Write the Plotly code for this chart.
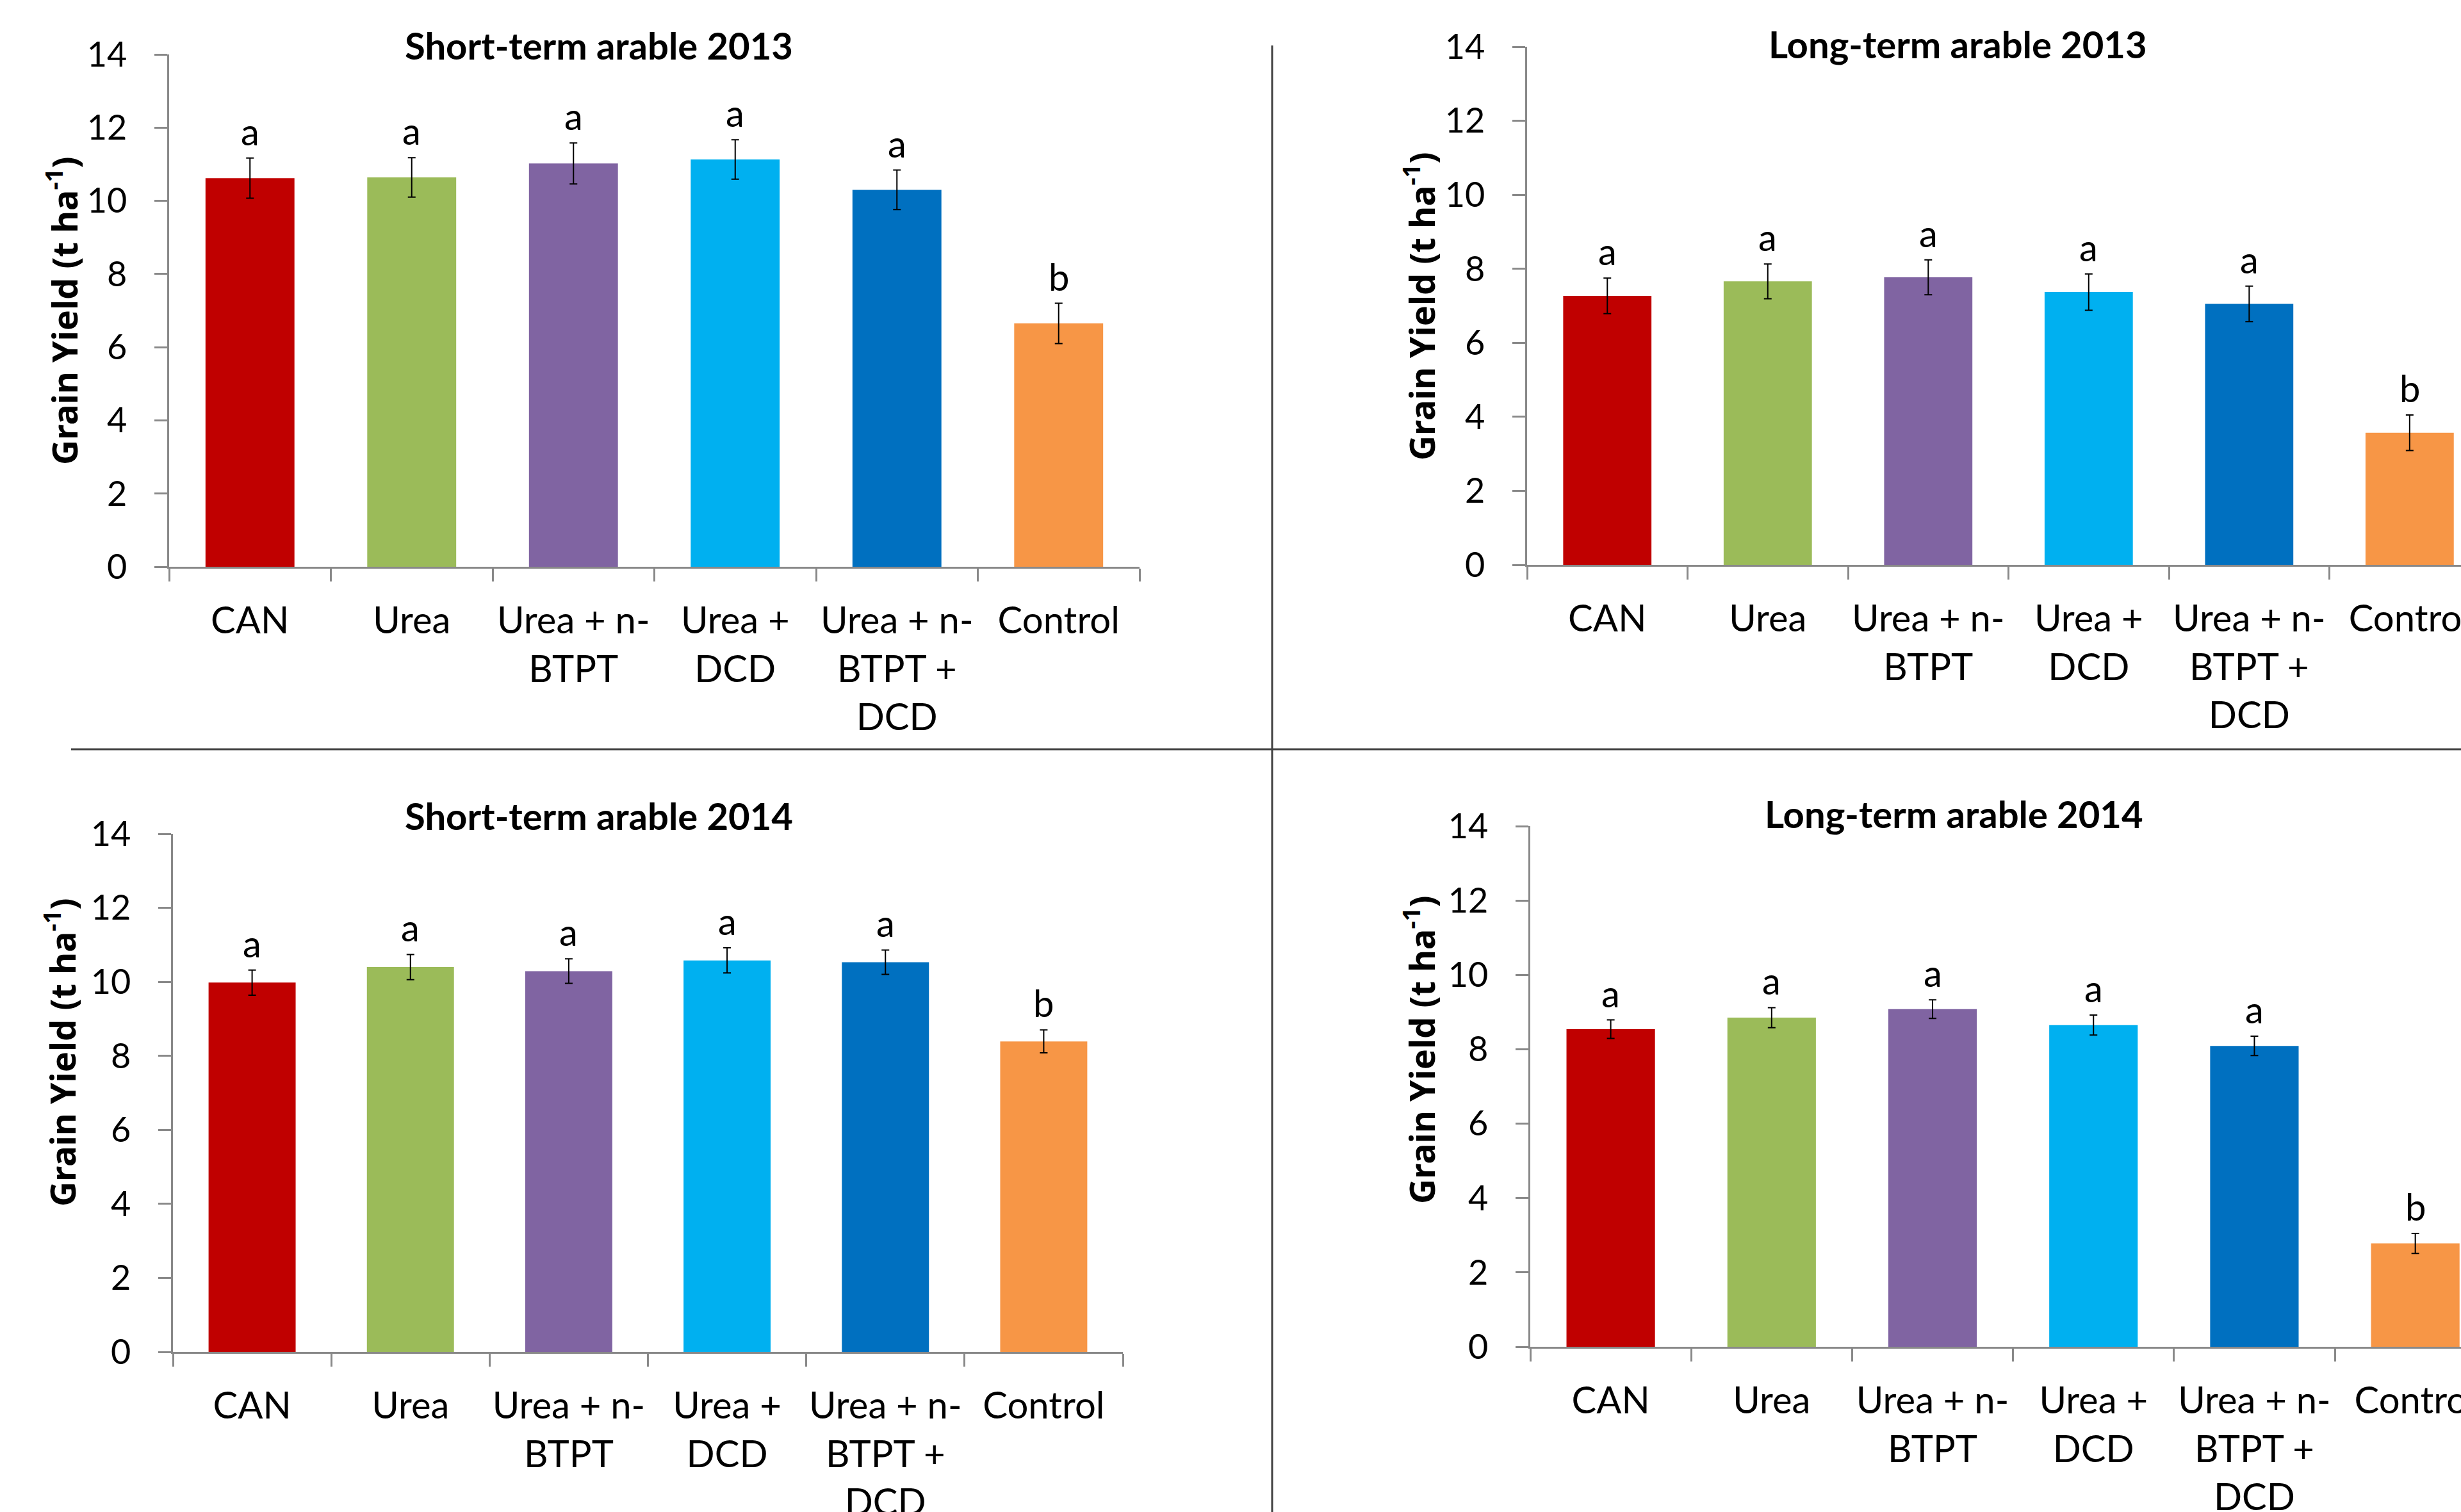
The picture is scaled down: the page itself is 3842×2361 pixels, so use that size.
import plotly.graph_objects as go

W, H = 3842, 2361

categories = ["CAN", "Urea", "Urea + n-<br>BTPT", "Urea +<br>DCD",
              "Urea + n-<br>BTPT +<br>DCD", "Control"]
colors = ["#C00000", "#9BBB59", "#8064A2", "#00B0F0", "#0070C0", "#F79646"]
letters = ["a", "a", "a", "a", "a", "b"]

st2013 = [10.62, 10.64, 11.02, 11.13, 10.30, 6.65]
st2013_err = [0.55, 0.54, 0.56, 0.54, 0.54, 0.55]
lt2013 = [7.27, 7.66, 7.77, 7.37, 7.05, 3.57]
lt2013_err = [0.48, 0.47, 0.47, 0.49, 0.48, 0.48]
st2014 = [9.98, 10.40, 10.29, 10.58, 10.53, 8.39]
st2014_err = [0.34, 0.34, 0.33, 0.34, 0.33, 0.31]
lt2014 = [8.54, 8.85, 9.08, 8.65, 8.09, 2.78]
lt2014_err = [0.25, 0.27, 0.25, 0.27, 0.26, 0.27]

titles = ["Short-term arable 2013", "Long-term arable 2013",
          "Short-term arable 2014", "Long-term arable 2014"]
y_title = "Grain Yield (t ha<sup>-1</sup>)"


def px_x(p):
    return p / W


def px_y(p):
    return 1 - p / H


panels = [
    dict(vals=st2013, err=st2013_err, x0=264, x1=1779, ytop=85, ybot=885,
         xr=None, tx=935, tb=107, yx=97, yy=485),
    dict(vals=lt2013, err=lt2013_err, x0=2384, x1=W, ytop=73, ybot=882,
         xr=[-0.5, 5.32], tx=3056, tb=105, yx=2217, yy=478),
    dict(vals=st2014, err=st2014_err, x0=270, x1=1753, ytop=1302, ybot=2111,
         xr=None, tx=935, tb=1310, yx=94, yy=1643),
    dict(vals=lt2014, err=lt2014_err, x0=2389, x1=W, ytop=1290, ybot=2103,
         xr=[-0.5, 5.284], tx=3050, tb=1307, yx=2216, yy=1639),
]

fig = go.Figure()
annotations = []
axis_color = "#898989"
ytick_font = dict(family="Lato, Carlito, sans-serif", size=54, color="black")
xtick_font = dict(family="Lato, Carlito, sans-serif", size=58, color="black")

for i, p in enumerate(panels):
    n = "" if i == 0 else str(i + 1)
    fig.add_trace(go.Bar(
        x=categories, y=p["vals"],
        marker=dict(color=colors, line=dict(width=0)),
        width=0.55,
        error_y=dict(type="data", array=p["err"], visible=True,
                     color="black", thickness=2, width=6),
        xaxis="x" + n, yaxis="y" + n, showlegend=False,
    ))
    xa = dict(domain=[px_x(p["x0"]), px_x(p["x1"])], anchor="y" + n,
              type="category", showline=True, linecolor=axis_color,
              linewidth=2.5, ticks="outside", tickson="boundaries",
              ticklen=20, tickcolor=axis_color, tickwidth=2.5,
              showgrid=False, zeroline=False, tickfont=xtick_font,
              tickangle=0,
              ticklabelstandoff=32, fixedrange=True, automargin=False)
    if p["xr"] is not None:
        xa["range"] = p["xr"]
    else:
        xa["range"] = [-0.5, 5.5]
    ya = dict(domain=[px_y(p["ybot"]), px_y(p["ytop"])], anchor="x" + n,
              range=[0, 14], dtick=2, tick0=0, showline=True,
              linecolor=axis_color, linewidth=2.5, ticks="outside",
              ticklen=20, tickcolor=axis_color, tickwidth=2.5,
              showgrid=False, zeroline=False, tickfont=ytick_font,
              ticklabelstandoff=32, fixedrange=True, automargin=False)
    fig.update_layout(**{"xaxis" + n: xa, "yaxis" + n: ya})

    for c, v, e, l in zip(categories, p["vals"], p["err"], letters):
        annotations.append(dict(
            x=c, y=v + e, xref="x" + n, yref="y" + n, text=l,
            showarrow=False, yanchor="bottom", xanchor="center", yshift=6,
            font=dict(family="Lato, Carlito, sans-serif", size=58,
                      color="black")))

    annotations.append(dict(
        x=px_x(p["tx"]), y=px_y(p["tb"]), xref="paper", yref="paper",
        text="<b>" + titles[i] + "</b>", showarrow=False,
        xanchor="center", yanchor="bottom",
        font=dict(family="Lato, Carlito, sans-serif", size=58, color="black")))

    annotations.append(dict(
        x=px_x(p["yx"]), y=px_y(p["yy"]), xref="paper", yref="paper",
        text="<b>" + y_title + "</b>", showarrow=False, textangle=-90,
        xanchor="center", yanchor="middle",
        font=dict(family="Noto Sans, DejaVu Sans, sans-serif", size=54,
                  color="black")))

shapes = [
    dict(type="line", xref="paper", yref="paper",
         x0=px_x(111), x1=1, y0=px_y(1170), y1=px_y(1170),
         line=dict(color="#404040", width=3)),
    dict(type="line", xref="paper", yref="paper",
         x0=px_x(1986), x1=px_x(1986), y0=px_y(71), y1=0,
         line=dict(color="#404040", width=3)),
]

fig.update_layout(
    template="none",
    width=W, height=H,
    margin=dict(l=0, r=0, t=0, b=0, autoexpand=False),
    paper_bgcolor="white", plot_bgcolor="white",
    annotations=annotations, shapes=shapes,
    bargap=0.45,
)

fig.write_html("out.html", config={"displayModeBar": False})
